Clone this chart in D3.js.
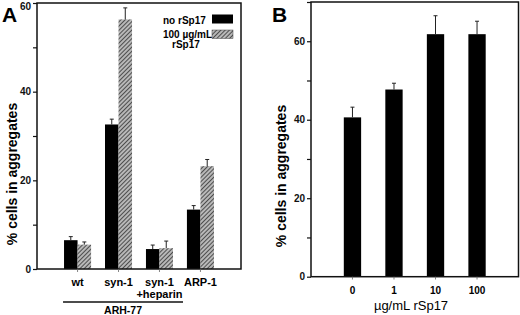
<!DOCTYPE html>
<html>
<head>
<meta charset="utf-8">
<script src="https://cdn.jsdelivr.net/npm/d3@7"></script>
<style>
  body { margin: 0; background: #fff; }
  svg { display: block; font-family: "Liberation Sans", Arial, sans-serif; }
</style>
</head>
<body>
<div id="chart"></div>
<script>
// panel A data
var groupsA = ["wt", "syn-1", "syn-1 +heparin", "ARP-1"];
var groupLabelsA = [["wt"], ["syn-1"], ["syn-1", "+heparin"], ["ARP-1"]];
var seriesA = ["no rSp17", "100 µg/mL rSp17"];
var noRsp17 = [6.5, 32.6, 4.5, 13.4];
var noRsp17Err = [0.8, 1.2, 0.9, 0.9];
var withRsp17 = [5.5, 56.3, 4.7, 23.2];
var withRsp17Err = [0.6, 2.6, 1.6, 1.5];
var ticksA = [0, 10, 20, 30, 40, 50, 60];

// panel B data
var doses = ["0", "1", "10", "100"];
var doseValues = [40.6, 47.7, 61.8, 61.8];
var doseErr = [2.6, 1.6, 4.7, 3.3];
var ticksB = [0, 10, 20, 30, 40, 50, 60, 70];

var svg = d3.select("#chart").append("svg")
    .attr("width", 520)
    .attr("height", 315);

// hatch pattern for the rSp17 bars
var pat = svg.append("defs").append("pattern")
    .attr("id", "hatch")
    .attr("patternUnits", "userSpaceOnUse")
    .attr("width", 3).attr("height", 3)
    .attr("patternTransform", "rotate(45)");
pat.append("rect").attr("width", 3).attr("height", 3).attr("fill", "#b8b8b8");
pat.append("line").attr("x1", 0).attr("y1", 0).attr("x2", 0).attr("y2", 3)
    .attr("stroke", "#2a2a2a").attr("stroke-width", 1.5);

function frame(g, x0, x1, y0, y1) {
  g.append("rect")
    .attr("x", x0).attr("y", y1)
    .attr("width", x1 - x0).attr("height", y0 - y1)
    .attr("fill", "none").attr("stroke", "#111").attr("stroke-width", 1.5);
}

function yAxis(g, y, ticks, x0) {
  var ax = g.append("g").attr("transform", "translate(" + x0 + ",0)")
    .call(d3.axisLeft(y).tickValues(ticks).tickSize(4)
      .tickFormat(function(d) { return d % 20 == 0 ? d : ""; }));
  ax.select(".domain").remove();
  ax.selectAll("line").attr("stroke", "#111").attr("stroke-width", 1.2);
  ax.selectAll("text")
    .attr("x", -6)
    .attr("dy", function(d) { return y(d) < 6 ? "0.6em" : "0.32em"; })
    .style("font-size", "10px")
    .style("font-weight", "bold")
    .style("font-family", '"Liberation Sans", Arial, sans-serif')
    .attr("fill", "#111");
}

function errBars(g, xs, vals, errs, y) {
  vals.forEach(function(v, i) {
    g.append("line")
      .attr("x1", xs[i]).attr("x2", xs[i])
      .attr("y1", y(v)).attr("y2", y(v + errs[i]))
      .attr("stroke", "#222").attr("stroke-width", 1);
    g.append("line")
      .attr("x1", xs[i] - 2).attr("x2", xs[i] + 2)
      .attr("y1", y(v + errs[i])).attr("y2", y(v + errs[i]))
      .attr("stroke", "#222").attr("stroke-width", 1);
  });
}

// ---------- Panel A ----------
var gA = svg.append("g");
var yA = d3.scaleLinear().domain([0, 60]).range([269, 3]);
var xA = d3.scaleBand().domain(groupsA).range([37, 241])
    .paddingInner(0.34).paddingOuter(0.66);
var xSub = d3.scaleBand().domain(seriesA).range([0, xA.bandwidth()]);

var barsA = [noRsp17, withRsp17];
var errsA = [noRsp17Err, withRsp17Err];
barsA.forEach(function(vals, s) {
  gA.selectAll(null).data(vals).enter().append("rect")
    .attr("x", function(d, i) { return xA(groupsA[i]) + xSub(seriesA[s]); })
    .attr("y", function(d) { return yA(d); })
    .attr("width", xSub.bandwidth())
    .attr("height", function(d) { return yA(0) - yA(d); })
    .attr("fill", s == 0 ? "#000" : "url(#hatch)");
  var xs = vals.map(function(d, i) { return xA(groupsA[i]) + xSub(seriesA[s]) + xSub.bandwidth() / 2; });
  errBars(gA, xs, vals, errsA[s], yA);
});

frame(gA, 37, 241, 269, 3);
yAxis(gA, yA, ticksA, 37);

// small x ticks and labels
groupsA.forEach(function(g, i) {
  var cx = xA(g) + xA.bandwidth() / 2;
  gA.append("line").attr("x1", cx).attr("x2", cx).attr("y1", 269).attr("y2", 272)
    .attr("stroke", "#666").attr("stroke-width", 0.8);
  groupLabelsA[i].forEach(function(t, k) {
    gA.append("text")
      .attr("x", cx).attr("y", 286 + k * 12)
      .attr("text-anchor", "middle")
      .style("font-size", "11px").style("font-weight", "bold")
      .text(t);
  });
});

// ARH-77 bracket
var x0 = xA(groupsA[0]) - 1, x1 = xA(groupsA[2]) + xA.bandwidth() + 10;
gA.append("line").attr("x1", x0).attr("x2", x1).attr("y1", 302).attr("y2", 302)
  .attr("stroke", "#111").attr("stroke-width", 1.3);
gA.append("text").attr("x", (x0 + x1) / 2).attr("y", 314)
  .attr("text-anchor", "middle")
  .style("font-size", "10.5px").style("font-weight", "bold")
  .text("ARH-77");

// legend
gA.append("text").attr("x", 163).attr("y", 23.5)
  .style("font-size", "10px").style("font-weight", "bold").text("no rSp17");
gA.append("rect").attr("x", 212).attr("y", 14.5).attr("width", 21).attr("height", 9).attr("fill", "#000");
gA.append("text").attr("x", 163).attr("y", 37.5)
  .style("font-size", "10px").style("font-weight", "bold").text("100 µg/mL");
gA.append("text").attr("x", 172).attr("y", 48)
  .style("font-size", "10px").style("font-weight", "bold").text("rSp17");
gA.append("rect").attr("x", 212).attr("y", 30).attr("width", 21).attr("height", 8.5)
  .attr("fill", "url(#hatch)").attr("stroke", "#444").attr("stroke-width", 0.5);

gA.append("text").attr("transform", "translate(17,174) rotate(-90)")
  .attr("text-anchor", "middle")
  .style("font-size", "14px").style("font-weight", "bold")
  .text("% cells in aggregates");

gA.append("text").attr("x", 2).attr("y", 22)
  .style("font-size", "21px").style("font-weight", "bold").text("A");

// ---------- Panel B ----------
var gB = svg.append("g");
var yB = d3.scaleLinear().domain([0, 70]).range([276.7, 2]);
var xB = d3.scaleBand().domain(doses).range([311, 518.5])
    .paddingInner(0.583).paddingOuter(0.79);

gB.selectAll(null).data(doseValues).enter().append("rect")
  .attr("x", function(d, i) { return xB(doses[i]); })
  .attr("y", function(d) { return yB(d); })
  .attr("width", xB.bandwidth())
  .attr("height", function(d) { return yB(0) - yB(d); })
  .attr("fill", "#000");
errBars(gB, doses.map(function(d) { return xB(d) + xB.bandwidth() / 2; }), doseValues, doseErr, yB);

frame(gB, 311, 518.5, 276.7, 2);
yAxis(gB, yB, ticksB, 311);

doses.forEach(function(d) {
  var cx = xB(d) + xB.bandwidth() / 2;
  gB.append("line").attr("x1", cx).attr("x2", cx).attr("y1", 276.7).attr("y2", 279.5)
    .attr("stroke", "#666").attr("stroke-width", 0.8);
  gB.append("text").attr("x", cx).attr("y", 294)
    .attr("text-anchor", "middle")
    .style("font-size", "10px").style("font-weight", "bold")
    .text(d);
});
gB.append("text").attr("x", 411).attr("y", 310)
  .attr("text-anchor", "middle")
  .style("font-size", "13px")
  .text("µg/mL rSp17");

gB.append("text").attr("transform", "translate(286,176) rotate(-90)")
  .attr("text-anchor", "middle")
  .style("font-size", "14px").style("font-weight", "bold")
  .text("% cells in aggregates");

gB.append("text").attr("x", 272).attr("y", 22)
  .style("font-size", "21px").style("font-weight", "bold").text("B");
</script>
</body>
</html>
